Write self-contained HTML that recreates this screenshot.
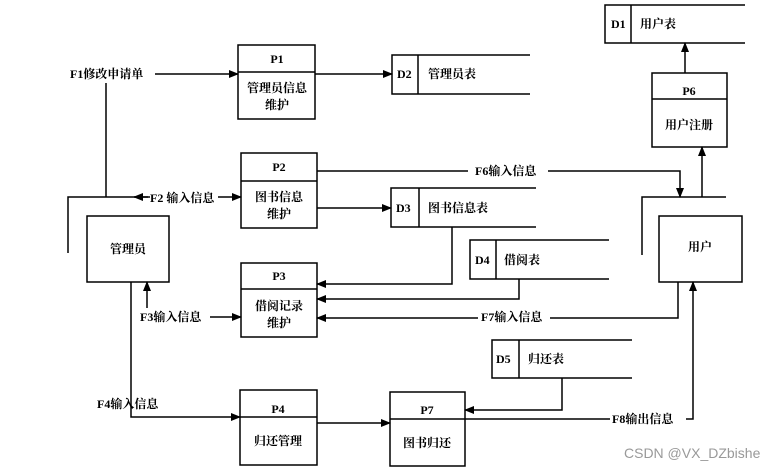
<!DOCTYPE html>
<html><head><meta charset="utf-8"><style>
body{margin:0;background:#fff}
svg text{font-family:"Liberation Serif","Noto Serif CJK SC",serif;font-weight:bold;font-size:12px;fill:#000}
</style></head><body>
<svg width="783" height="470" viewBox="0 0 783 470" xmlns="http://www.w3.org/2000/svg">
<defs><marker id="a" markerWidth="10" markerHeight="8" refX="9" refY="4" orient="auto" markerUnits="userSpaceOnUse"><path d="M0,0L10,4L0,8z" fill="#000"/></marker></defs>
<g fill="none" stroke="#000" stroke-width="1.5">
<!-- processes -->
<rect x="238" y="45" width="77" height="74"/><line x1="238" y1="72" x2="315" y2="72"/>
<rect x="241" y="153" width="76" height="75"/><line x1="241" y1="181" x2="317" y2="181"/>
<rect x="241" y="263" width="76" height="74"/><line x1="241" y1="289" x2="317" y2="289"/>
<rect x="240" y="390" width="77" height="75"/><line x1="240" y1="417" x2="317" y2="417"/>
<rect x="390" y="392" width="75" height="74"/><line x1="390" y1="419" x2="465" y2="419"/>
<rect x="652" y="73" width="75" height="74"/><line x1="652" y1="99" x2="727" y2="99"/>
<rect x="87" y="216" width="82" height="66"/>
<rect x="659" y="216" width="83" height="66"/>
<!-- data stores -->
<path d="M745,5H605V43H745M631,5V43"/>
<path d="M530,55H392V94H530M418,55V94"/>
<path d="M536,188H391V227H536M419,188V227"/>
<path d="M609,240H470V279H609M496,240V279"/>
<path d="M632,340H492V378H632M519,340V378"/>
<!-- lines -->
<line x1="155" y1="74" x2="238" y2="74" marker-end="url(#a)"/>
<line x1="106" y1="83" x2="106" y2="197"/>
<path d="M68,253V197H150"/>
<line x1="148" y1="197" x2="134" y2="197" marker-end="url(#a)"/>
<line x1="218" y1="197" x2="241" y2="197" marker-end="url(#a)"/>
<line x1="315" y1="74" x2="392" y2="74" marker-end="url(#a)"/>
<line x1="317" y1="208" x2="391" y2="208" marker-end="url(#a)"/>
<path d="M317,171H680V197" marker-end="url(#a)"/>
<path d="M642,255V197H726"/>
<line x1="702" y1="197" x2="702" y2="147" marker-end="url(#a)"/>
<line x1="685" y1="73" x2="685" y2="43" marker-end="url(#a)"/>
<path d="M452,227V284H317" marker-end="url(#a)"/>
<path d="M519,279V299H317" marker-end="url(#a)"/>
<path d="M678,282V318H317" marker-end="url(#a)"/>
<line x1="147" y1="308" x2="147" y2="282" marker-end="url(#a)"/>
<line x1="210" y1="317" x2="241" y2="317" marker-end="url(#a)"/>
<path d="M131,282V417H240" marker-end="url(#a)"/>
<line x1="317" y1="423" x2="390" y2="423" marker-end="url(#a)"/>
<path d="M562,378V410H465" marker-end="url(#a)"/>
<path d="M465,419H693V282" marker-end="url(#a)"/>
</g>
<g>
<rect x="468" y="163" width="80" height="16" fill="#fff"/>
<rect x="478" y="309" width="72" height="16" fill="#fff"/>
<rect x="610" y="411" width="76" height="16" fill="#fff"/>
</g>
<g text-anchor="middle">
<text x="277" y="63">P1</text><text x="277" y="92">管理员信息</text><text x="277" y="109">维护</text>
<text x="279" y="171">P2</text><text x="279" y="201">图书信息</text><text x="279" y="218">维护</text>
<text x="279" y="280">P3</text><text x="279" y="310">借阅记录</text><text x="279" y="327">维护</text>
<text x="278" y="413">P4</text><text x="278" y="445">归还管理</text>
<text x="427" y="414">P7</text><text x="427" y="447">图书归还</text>
<text x="689" y="95">P6</text><text x="689" y="129">用户注册</text>
<text x="128" y="253">管理员</text>
<text x="700" y="251">用户</text>
</g>
<text x="611" y="28">D1</text><text x="640" y="28" font-weight="normal">用户表</text>
<text x="397" y="78">D2</text><text x="428" y="78">管理员表</text>
<text x="396" y="212">D3</text><text x="428" y="212">图书信息表</text>
<text x="475" y="264">D4</text><text x="504" y="264">借阅表</text>
<text x="496" y="363">D5</text><text x="528" y="363">归还表</text>
<text x="70" y="78">F1修改申请单</text>
<text x="150" y="202">F2 输入信息</text>
<text x="140" y="321">F3输入信息</text>
<text x="97" y="408">F4输入信息</text>
<text x="475" y="175">F6输入信息</text>
<text x="481" y="321">F7输入信息</text>
<text x="612" y="423">F8输出信息</text>
<text x="624" y="458" style="font-family:'Liberation Sans',sans-serif;font-weight:normal;font-size:14px;fill:#999">CSDN @VX_DZbishe</text>
</svg>
</body></html>
